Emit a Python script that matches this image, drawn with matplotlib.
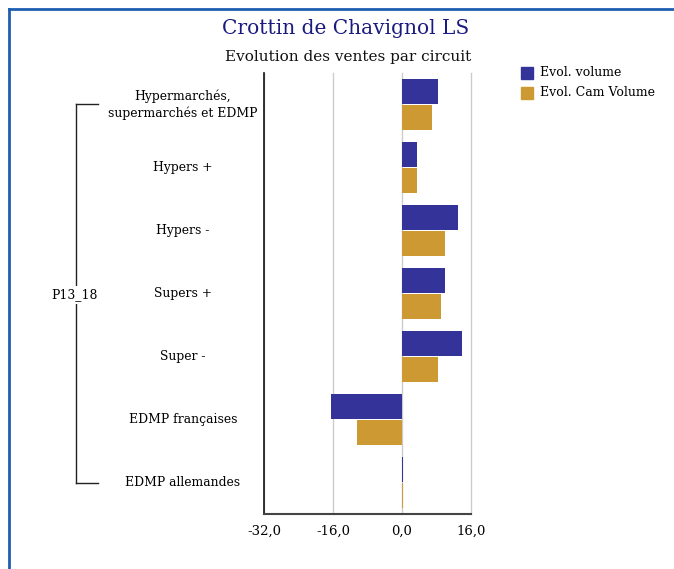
import matplotlib
matplotlib.use("Agg")
import matplotlib.pyplot as plt
from matplotlib.patches import Rectangle
from matplotlib.lines import Line2D

categories = ["Hypermarchés,\nsupermarchés et EDMP", "Hypers +", "Hypers -",
              "Supers +", "Super -", "EDMP françaises", "EDMP allemandes"]
evol_volume = [8.3, 3.5, 12.9, 9.9, 14.0, -16.4, 0.2]
evol_cam_volume = [6.9, 3.5, 10.0, 9.1, 8.4, -10.4, 0.15]
series_names = ["Evol. volume", "Evol. Cam Volume"]
xticks = [-32, -16, 0, 16]
group_label = "P13_18"
title = "Crottin de Chavignol LS"
subtitle = "Evolution des ventes par circuit"

blue = "#333399"
gold = "#cc9933"
FONT = "DejaVu Serif"
plt.rcParams["font.family"] = FONT

W, H = 674, 569
fig = plt.figure(figsize=(W / 100, H / 100), dpi=100)

def fx(px):
    return px / W

def fy(py):
    return 1 - py / H

ax = fig.add_axes([fx(264), fy(514), fx(471) - fx(264), fy(73) - fy(514)])

n = len(categories)
pos = list(range(n))
h = 0.4
ax.barh([p - 0.21 for p in pos], evol_volume, height=h, color=blue, zorder=3)
ax.barh([p + 0.21 for p in pos], evol_cam_volume, height=h, color=gold, zorder=3)

ax.set_xlim(-32, 16)
ax.set_ylim(n - 0.5, -0.5)
ax.set_xticks(xticks)
ax.set_xticklabels([f"{v:.1f}".replace(".", ",") for v in xticks], fontsize=9.5)
ax.set_yticks([])
ax.tick_params(axis="x", length=0, pad=8)
ax.grid(axis="x", color="#cccccc", linewidth=1, zorder=0)
for l in ax.get_xgridlines():
    l.set_clip_on(False)
for s in ["top", "right"]:
    ax.spines[s].set_visible(False)
ax.spines["left"].set_color("#111111")
ax.spines["left"].set_linewidth(1.2)
ax.spines["bottom"].set_color("#444444")
ax.spines["bottom"].set_linewidth(1.5)

# category labels
for i, c in enumerate(categories):
    ypx = 73 + 63 * (i + 0.5)
    fig.text(fx(183), fy(ypx), c, ha="center", va="center", fontsize=8.9,
             linespacing=1.3)

# bracket
y_top = 104
y_bot = 483
fig.add_artist(Line2D([fx(76), fx(98)], [fy(y_top), fy(y_top)], color="#222222", lw=1))
fig.add_artist(Line2D([fx(76), fx(98)], [fy(y_bot), fy(y_bot)], color="#222222", lw=1))
fig.add_artist(Line2D([fx(76), fx(76)], [fy(y_top), fy(y_bot)], color="#222222", lw=1))
fig.text(fx(75), fy(295), group_label, ha="center", va="center", fontsize=8.9,
         bbox=dict(facecolor="white", edgecolor="none", pad=1.5))

# titles
fig.text(fx(346), fy(28), title, ha="center", va="center", fontsize=14.5, color="#1a1a80")
fig.text(fx(348), fy(57), subtitle, ha="center", va="center", fontsize=11, color="#111111")

# legend
for j, (name, col) in enumerate(zip(series_names, [blue, gold])):
    ypx = 73 + 20 * j
    fig.add_artist(Rectangle((fx(521), fy(ypx + 6)), fx(12), fy(0) - fy(12),
                             color=col, transform=fig.transFigure))
    fig.text(fx(540), fy(ypx), name, ha="left", va="center", fontsize=9)

# frame border
fig.add_artist(Line2D([fx(9), fx(9)], [fy(9), 0], color="#1f5fb0", lw=2))
fig.add_artist(Line2D([fx(9), 1], [fy(9), fy(9)], color="#1f5fb0", lw=2))

fig.savefig("out.png", dpi=100)
